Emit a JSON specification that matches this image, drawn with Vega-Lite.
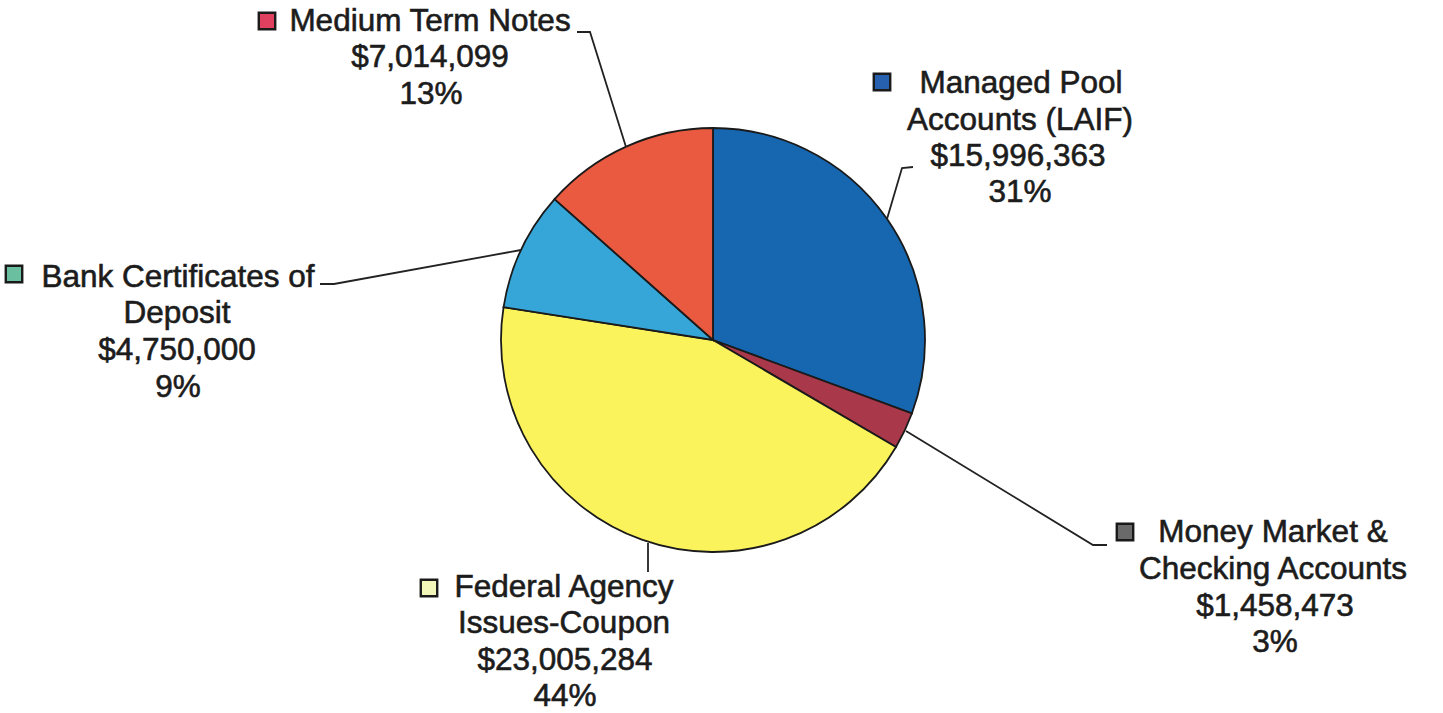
{
  "$schema": "https://vega.github.io/schema/vega-lite/v6.json",
  "width": 1443,
  "height": 713,
  "padding": 0,
  "autosize": {"type": "fit", "contains": "padding"},
  "background": "#ffffff",
  "config": {"view": {"stroke": null}},
  "datasets": {
    "slices": [
      {"category": "Managed Pool Accounts (LAIF)", "value": 15996363, "ord": 1},
      {"category": "Money Market & Checking Accounts", "value": 1458473, "ord": 2},
      {"category": "Federal Agency Issues-Coupon", "value": 23005284, "ord": 3},
      {"category": "Bank Certificates of Deposit", "value": 4750000, "ord": 4},
      {"category": "Medium Term Notes", "value": 7014099, "ord": 5}
    ],
    "leaders": [
      {"lid": "mtn", "k": 1, "x": 577, "y": 32},
      {"lid": "mtn", "k": 2, "x": 590, "y": 32},
      {"lid": "mtn", "k": 3, "x": 626, "y": 147},
      {"lid": "mpa", "k": 1, "x": 913, "y": 167},
      {"lid": "mpa", "k": 2, "x": 902, "y": 168},
      {"lid": "mpa", "k": 3, "x": 887, "y": 219},
      {"lid": "bcd", "k": 1, "x": 320, "y": 284},
      {"lid": "bcd", "k": 2, "x": 334, "y": 284},
      {"lid": "bcd", "k": 3, "x": 521, "y": 250},
      {"lid": "mmc", "k": 1, "x": 906, "y": 431},
      {"lid": "mmc", "k": 2, "x": 1093, "y": 545},
      {"lid": "mmc", "k": 3, "x": 1107, "y": 545},
      {"lid": "fai", "k": 1, "x": 648, "y": 543},
      {"lid": "fai", "k": 2, "x": 648, "y": 572}
    ],
    "labels": [
      {"txt": "Medium Term Notes", "x": 430, "y": 31},
      {"txt": "$7,014,099", "x": 430, "y": 67},
      {"txt": "13%", "x": 431, "y": 104},
      {"txt": "Managed Pool", "x": 1021, "y": 93},
      {"txt": "Accounts (LAIF)", "x": 1020, "y": 130},
      {"txt": "$15,996,363", "x": 1018, "y": 166},
      {"txt": "31%", "x": 1020, "y": 202},
      {"txt": "Bank Certificates of", "x": 178, "y": 287},
      {"txt": "Deposit", "x": 177, "y": 323},
      {"txt": "$4,750,000", "x": 177, "y": 360},
      {"txt": "9%", "x": 178, "y": 397},
      {"txt": "Money Market &", "x": 1273, "y": 542},
      {"txt": "Checking Accounts", "x": 1273, "y": 579},
      {"txt": "$1,458,473", "x": 1275, "y": 616},
      {"txt": "3%", "x": 1275, "y": 652},
      {"txt": "Federal Agency", "x": 564, "y": 597},
      {"txt": "Issues-Coupon", "x": 564, "y": 633},
      {"txt": "$23,005,284", "x": 565, "y": 670},
      {"txt": "44%", "x": 565, "y": 706}
    ],
    "markers": [
      {"category": "Medium Term Notes", "x": 267, "y": 21},
      {"category": "Managed Pool Accounts (LAIF)", "x": 882, "y": 82},
      {"category": "Bank Certificates of Deposit", "x": 14, "y": 274},
      {"category": "Money Market & Checking Accounts", "x": 1125, "y": 532},
      {"category": "Federal Agency Issues-Coupon", "x": 429, "y": 588}
    ]
  },
  "layer": [
    {
      "data": {"name": "slices"},
      "mark": {"type": "arc", "outerRadius": 212, "stroke": "#1a1a1a", "strokeWidth": 1.8},
      "encoding": {
        "x": {"datum": 713, "type": "quantitative", "scale": {"domain": [0, 1443]}, "axis": null},
        "y": {"datum": 340, "type": "quantitative", "scale": {"domain": [713, 0]}, "axis": null},
        "theta": {"field": "value", "type": "quantitative", "stack": true},
        "order": {"field": "ord", "type": "quantitative"},
        "color": {
          "field": "category", "type": "nominal", "legend": null,
          "scale": {
            "domain": ["Managed Pool Accounts (LAIF)", "Money Market & Checking Accounts", "Federal Agency Issues-Coupon", "Bank Certificates of Deposit", "Medium Term Notes"],
            "range": ["#1666b0", "#a8384a", "#fbf35c", "#36a6d8", "#ea5a40"]
          }
        }
      }
    },
    {
      "data": {"name": "leaders"},
      "mark": {"type": "line", "color": "#222222", "strokeWidth": 1.8},
      "encoding": {
        "x": {"field": "x", "type": "quantitative", "scale": {"domain": [0, 1443]}, "axis": null},
        "y": {"field": "y", "type": "quantitative", "scale": {"domain": [713, 0]}, "axis": null},
        "detail": {"field": "lid", "type": "nominal"},
        "order": {"field": "k", "type": "quantitative"}
      }
    },
    {
      "data": {"name": "markers"},
      "mark": {"type": "point", "shape": "square", "size": 270, "filled": true, "stroke": "#1a1a1a", "strokeWidth": 2.4, "opacity": 1},
      "encoding": {
        "x": {"field": "x", "type": "quantitative", "scale": {"domain": [0, 1443]}, "axis": null},
        "y": {"field": "y", "type": "quantitative", "scale": {"domain": [713, 0]}, "axis": null},
        "fill": {
          "field": "category", "type": "nominal", "legend": null,
          "scale": {
            "domain": ["Managed Pool Accounts (LAIF)", "Money Market & Checking Accounts", "Federal Agency Issues-Coupon", "Bank Certificates of Deposit", "Medium Term Notes"],
            "range": ["#2860b0", "#6a6a6a", "#f2f6b8", "#6abfa0", "#e04060"]
          }
        }
      }
    },
    {
      "data": {"name": "labels"},
      "mark": {"type": "text", "font": "Liberation Sans", "fontSize": 31.5, "align": "center", "baseline": "alphabetic", "color": "#1c1c1c", "stroke": "#1c1c1c", "strokeWidth": 0.6},
      "encoding": {
        "x": {"field": "x", "type": "quantitative", "scale": {"domain": [0, 1443]}, "axis": null},
        "y": {"field": "y", "type": "quantitative", "scale": {"domain": [713, 0]}, "axis": null},
        "text": {"field": "txt", "type": "nominal"}
      }
    }
  ]
}
